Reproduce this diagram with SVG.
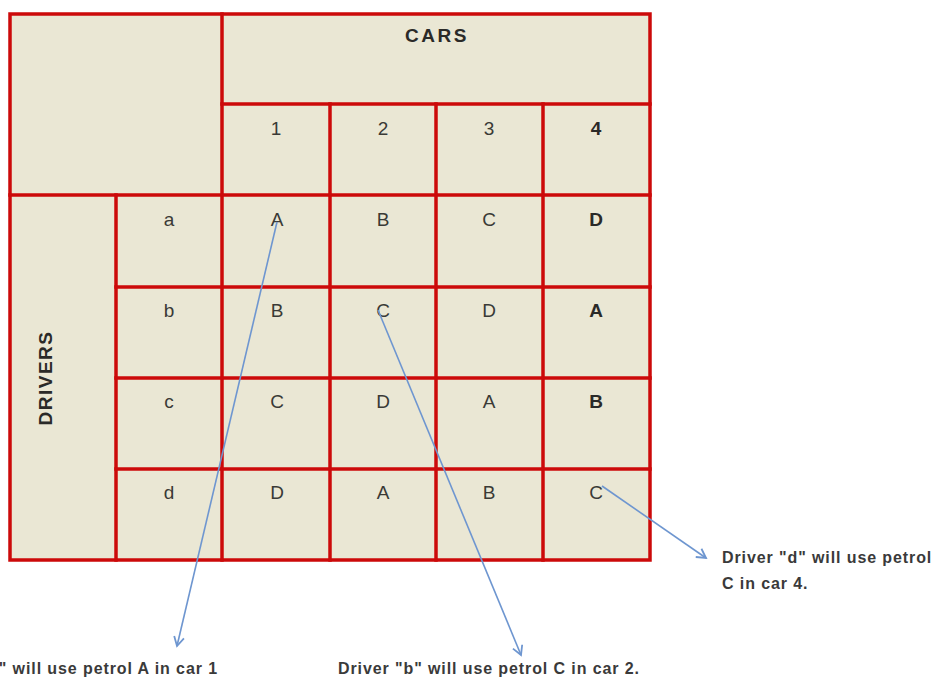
<svg xmlns="http://www.w3.org/2000/svg" width="937" height="677" viewBox="0 0 937 677">
<defs>
<style>
.grid{stroke:#CC0A0A;stroke-width:3.5;fill:none;stroke-linecap:square}
.cell{font-family:"Liberation Sans",Arial,sans-serif;font-size:19px;fill:#3a3a36;text-anchor:middle}
.b{font-weight:bold;fill:#2a2a28}
.conn{stroke:#6E96D0;stroke-width:1.6;fill:none}
.note{font-family:"Liberation Sans",Arial,sans-serif;font-size:16px;font-weight:bold;fill:#3a3a3a;letter-spacing:0.9px}
</style>
<marker id="arr" viewBox="0 0 12 12" refX="10" refY="6" markerWidth="12" markerHeight="12" markerUnits="userSpaceOnUse" orient="auto">
<polyline points="1,1 10,6 1,11" fill="none" stroke="#6E96D0" stroke-width="1.8"/>
</marker>
</defs>
<rect width="937" height="677" fill="#ffffff"/>
<g id="table">
<rect x="10" y="14" width="640" height="546" fill="#EAE7D4"/>
<g class="grid">
<rect x="10" y="14" width="640" height="546"/>
<line x1="222" y1="14" x2="222" y2="560"/>
<line x1="222" y1="104" x2="650" y2="104"/>
<line x1="10" y1="195" x2="650" y2="195"/>
<line x1="116" y1="195" x2="116" y2="560"/>
<line x1="330" y1="104" x2="330" y2="560"/>
<line x1="436" y1="104" x2="436" y2="560"/>
<line x1="543" y1="104" x2="543" y2="560"/>
<line x1="116" y1="287" x2="650" y2="287"/>
<line x1="116" y1="378" x2="650" y2="378"/>
<line x1="116" y1="469" x2="650" y2="469"/>
</g>
</g>
<g id="header-cars"><text class="cell b" x="437" y="42" font-size="21" letter-spacing="2.5">CARS</text></g>
<g id="header-drivers"><text class="cell b" x="0" y="0" font-size="23" letter-spacing="1.5" transform="translate(52,378) rotate(-90)">DRIVERS</text></g>
<g id="col-headers">
<text class="cell" x="276" y="135">1</text>
<text class="cell" x="383" y="135">2</text>
<text class="cell" x="489" y="135">3</text>
<text class="cell b" x="596" y="135">4</text>
</g>
<g id="row-a">
<text class="cell" x="169" y="226">a</text>
<text class="cell" x="277" y="226">A</text>
<text class="cell" x="383" y="226">B</text>
<text class="cell" x="489" y="226">C</text>
<text class="cell b" x="596" y="226">D</text>
</g>
<g id="row-b">
<text class="cell" x="169" y="317">b</text>
<text class="cell" x="277" y="317">B</text>
<text class="cell" x="383" y="317">C</text>
<text class="cell" x="489" y="317">D</text>
<text class="cell b" x="596" y="317">A</text>
</g>
<g id="row-c">
<text class="cell" x="169" y="408">c</text>
<text class="cell" x="277" y="408">C</text>
<text class="cell" x="383" y="408">D</text>
<text class="cell" x="489" y="408">A</text>
<text class="cell b" x="596" y="408">B</text>
</g>
<g id="row-d">
<text class="cell" x="169" y="499">d</text>
<text class="cell" x="277" y="499">D</text>
<text class="cell" x="383" y="499">A</text>
<text class="cell" x="489" y="499">B</text>
<text class="cell" x="596" y="499">C</text>
</g>
<g id="connectors">
<line class="conn" x1="277" y1="222" x2="177" y2="646" marker-end="url(#arr)"/>
<line class="conn" x1="378" y1="310" x2="521" y2="655" marker-end="url(#arr)"/>
<line class="conn" x1="602" y1="486" x2="706" y2="558" marker-end="url(#arr)"/>
</g>
<g id="note-a"><text class="note" x="218" y="674" text-anchor="end">Driver "a" will use petrol A in car 1</text></g>
<g id="note-b"><text class="note" x="338" y="674">Driver "b" will use petrol C in car 2.</text></g>
<g id="note-d"><text class="note" x="722" y="563">Driver "d" will use petrol</text><text class="note" x="722" y="589">C in car 4.</text></g>
</svg>
